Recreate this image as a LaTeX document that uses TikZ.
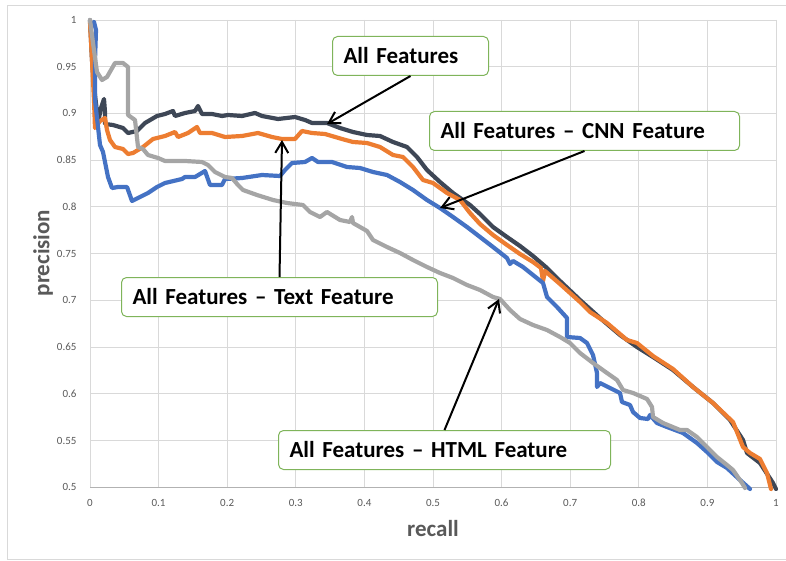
\documentclass[tikz,border=0pt]{standalone}
\usepackage{fontspec}
\setmainfont{Carlito}
\usetikzlibrary{arrows.meta}

\definecolor{allfeat}{HTML}{3E4756}
\definecolor{nocnn}{HTML}{ED7D31}
\definecolor{notext}{HTML}{4472C4}
\definecolor{nohtml}{HTML}{A5A5A5}
\definecolor{boxgreen}{HTML}{7FB45A}
\definecolor{ticktext}{HTML}{595959}

\begin{document}
\begin{tikzpicture}[x=1pt, y=-1pt,
    grid line/.style={draw=black!15, line width=0.9pt},
    pr curve/.style={line width=4.2pt, line join=round, line cap=round},
    callout/.style={draw=boxgreen, line width=1pt, rounded corners=5pt, fill=white,
        font=\fontsize{23}{26}\selectfont\bfseries, inner xsep=11pt,
        minimum height=39pt, align=left, anchor=north west},
    pointer/.style={-{Straight Barb[length=11pt,width=13pt]}, line width=2pt}]
    \useasboundingbox (0,0) rectangle (786,561);
    % Frame
    \draw[black!15] (7,5) rectangle (790,559);

    % Grid
    \foreach \i in {0,...,10}
        \draw[grid line] ({90+68.6*\i},20) -- ({90+68.6*\i},487.3);
    \foreach \j in {0,...,9}
        \draw[grid line] (90,{20+46.73*\j}) -- (776,{20+46.73*\j});
    \draw[black!30, line width=0.9pt] (90,487.3) -- (776,487.3);

    % Tick labels
    \foreach \i/\lab in {0/0, 1/0.1, 2/0.2, 3/0.3, 4/0.4, 5/0.5, 6/0.6, 7/0.7, 8/0.8, 9/0.9, 10/1}
        \node[text=ticktext, font=\fontsize{11}{13}\selectfont] at ({90+68.6*\i},503) {\lab};
    \foreach \j/\lab in {0/1, 1/0.95, 2/0.9, 3/0.85, 4/0.8, 5/0.75, 6/0.7, 7/0.65, 8/0.6, 9/0.55, 10/0.5}
        \node[text=ticktext, font=\fontsize{11}{13}\selectfont, anchor=east] at (80,{20+46.73*\j}) {\lab};

    % Axis titles
    \node[text=ticktext, font=\fontsize{23}{26}\selectfont\bfseries, rotate=90] at (43,253) {precision};
    \node[text=ticktext, font=\fontsize{23}{26}\selectfont\bfseries] at (433,529) {recall};

    % Curves
    \draw[pr curve, allfeat] plot coordinates {(90,20) (92,60) (95,95) (97,112) (99,118) (101,108)
        (104,99) (105,112) (105,124) (113,125) (123,128) (128,133) (137,131) (145,123) (157,116)
        (165,114) (173,111) (175,116) (185,113) (195,111) (198,106) (202,114) (212,114) (222,116)
        (228,115) (242,116) (255,113) (262,116) (278,119) (295,117) (305,120) (312,123) (327,123)
        (340,128) (353,132) (367,135) (380,136) (393,142) (407,147) (417,157) (427,170) (440,182)
        (453,193) (470,205) (480,214) (493,227) (507,237) (520,246) (533,256) (547,268) (560,281)
        (580,300) (600,318) (620,335) (637,347) (653,357) (673,370) (693,387) (713,403) (730,420)
        (743,440) (747,453) (760,463) (773,483) (776,489)};
    \draw[pr curve, nocnn] plot coordinates {(90,22) (92,60) (94,100) (95,128) (100,121) (105,118)
        (107,130) (110,140) (115,147) (123,149) (128,154) (133,153) (143,147) (153,139) (165,136)
        (175,132) (178,137) (188,133) (197,127) (200,133) (212,133) (225,137) (242,136) (258,133)
        (272,137) (282,139) (295,139) (302,131) (312,133) (325,134) (342,139) (353,142) (367,143)
        (380,147) (393,155) (403,157) (413,167) (423,180) (433,183) (447,193) (460,200) (470,213)
        (480,224) (493,235) (507,245) (520,254) (533,262) (541,268) (543,281) (545,271) (560,284)
        (580,302) (590,312) (607,323) (627,340) (637,343) (653,356) (673,369) (693,387) (713,403)
        (733,422) (743,447) (750,453) (760,459) (767,473) (771,489)};
    \draw[pr curve, notext] plot coordinates {(94,22) (96,30) (95,60) (95,100) (100,145) (103,152)
        (108,177) (112,188) (118,187) (127,187) (132,201) (138,198) (148,193) (157,187) (165,183)
        (182,179) (185,177) (195,177) (205,171) (210,185) (222,185) (225,179) (242,178) (262,175)
        (280,176) (285,170) (292,163) (305,162) (312,158) (318,162) (332,162) (347,167) (360,168)
        (373,172) (387,175) (400,182) (413,190) (427,200) (440,208) (453,217) (467,227) (480,237)
        (493,247) (507,258) (510,264) (513,261) (523,267) (533,275) (543,283) (547,297) (557,307)
        (567,318) (567,337) (580,338) (587,343) (593,355) (597,373) (597,387) (600,383) (610,388)
        (620,393) (622,402) (630,405) (633,412) (640,418) (648,419) (650,415) (657,423) (667,427)
        (683,433) (697,443) (707,452) (717,462) (727,468) (740,480) (750,489)};
    \draw[pr curve, nohtml] plot coordinates {(90,20) (93,43) (97,72) (102,80) (107,77) (115,63)
        (123,63) (128,67) (128,115) (135,120) (138,147) (143,149) (148,155) (158,158) (165,161)
        (185,161) (202,162) (208,165) (215,172) (225,177) (232,178) (238,185) (243,190) (257,195)
        (273,200) (287,203) (303,205) (310,212) (320,217) (327,212) (340,220) (350,222) (352,217)
        (353,223) (367,231) (373,240) (387,247) (400,253) (413,260) (427,267) (440,273) (453,278)
        (467,285) (480,290) (493,297) (500,299) (510,310) (520,319) (533,325) (547,330) (560,337)
        (570,343) (580,353) (593,363) (607,373) (617,380) (623,390) (633,393) (647,399) (652,407)
        (653,417) (663,423) (680,430) (687,430) (697,437) (707,447) (717,457) (727,465) (733,470)
        (742,483) (745,488)};

    % Arrow tips on the curves
    \coordinate (allTip) at (327,124);
    \coordinate (cnnTip) at (440,208);
    \coordinate (textTip) at (282,140);
    \coordinate (htmlTip) at (499,299);

    % Callouts
    \node[callout, text width=134pt] (allBox) at (332,36) {All Features};
    \node[callout, text width=288pt] (cnnBox) at (429,111) {All Features – CNN Feature};
    \node[callout, text width=294pt] (textBox) at (121,277) {All Features – Text Feature};
    \node[callout, text width=310pt] (htmlBox) at (278,430) {All Features – HTML Feature};

    \draw[pointer] (allBox.south) -- (allTip);
    \draw[pointer] (cnnBox.south) -- (cnnTip);
    \draw[pointer] (textBox.north) -- (textTip);
    \draw[pointer] (htmlBox.north) -- (htmlTip);
\end{tikzpicture}
\end{document}
